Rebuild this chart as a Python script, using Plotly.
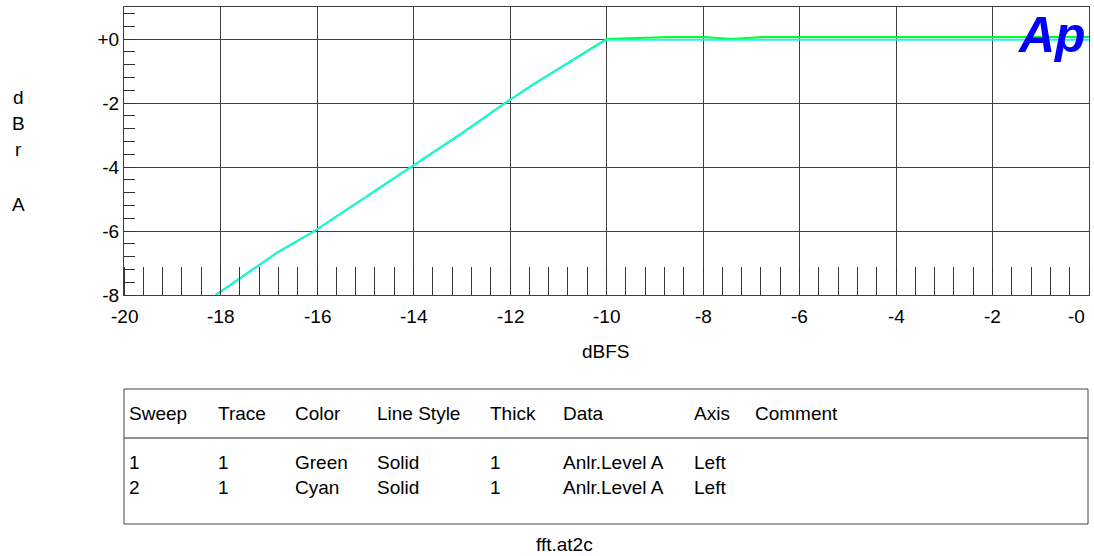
import plotly.graph_objects as go

# Sweep data (x: generator level in dBFS, y: analyzer level in dBr A)
sweep1_x = [-18.1, -16.8, -16.05, -14.05, -13.0, -12.1, -11.5, -10.0, -8.7, -8.0, -7.4, -6.75, -4.0, -2.0, 0.0]
sweep1_y = [-8.0, -6.65, -6.0, -4.0, -2.95, -2.0, -1.4, 0.0, 0.06, 0.06, 0.0, 0.06, 0.06, 0.06, 0.06]
sweep2_x = [-18.1, -16.8, -16.05, -14.05, -13.0, -12.1, -11.5, -10.0, -8.0, -6.0, -4.0, -2.0, 0.0]
sweep2_y = [-8.0, -6.65, -6.0, -4.0, -2.95, -2.0, -1.4, -0.02, -0.02, -0.02, -0.02, -0.02, -0.02]

x_ticks = [-20, -18, -16, -14, -12, -10, -8, -6, -4, -2, 0]
x_tick_labels = ["-20", "-18", "-16", "-14", "-12", "-10", "-8", "-6", "-4", "-2", "-0"]
y_ticks = [0, -2, -4, -6, -8]
y_tick_labels = ["+0", "-2", "-4", "-6", "-8"]

# Legend table contents
table_header = ["Sweep", "Trace", "Color", "Line Style", "Thick", "Data", "Axis", "Comment"]
table_rows = [
    ["1", "1", "Green", "Solid", "1", "Anlr.Level A", "Left", ""],
    ["2", "1", "Cyan", "Solid", "1", "Anlr.Level A", "Left", ""],
]
column_px = [127, 216, 293, 375, 488, 561, 692, 753]

W, H = 1094, 556
L, R, T, B = 124, 1089, 7, 295
FONT = "Liberation Sans, Arial, sans-serif"
GRID = "#404040"


def px_x(p):
    return (p - L) / (R - L)


def px_y(p):
    return (B - p) / (B - T)


fig = go.Figure()
fig.add_trace(go.Scatter(x=sweep1_x, y=sweep1_y, mode="lines",
                         line=dict(color="#00ff1e", width=2), showlegend=False))
fig.add_trace(go.Scatter(x=sweep2_x, y=sweep2_y, mode="lines",
                         line=dict(color="#19f5e6", width=2), showlegend=False))

fig.update_xaxes(range=[-20, 0], tickvals=x_ticks, showticklabels=False,
                 showgrid=True, gridcolor=GRID, gridwidth=1, zeroline=False,
                 showline=True, mirror=True, linecolor=GRID, linewidth=1,
                 ticks="",
                 minor=dict(dtick=0.4, tick0=0, ticks="inside", ticklen=28,
                            tickcolor="#333", tickwidth=1, showgrid=False))
fig.update_yaxes(range=[-8, 1], tickvals=y_ticks, ticktext=y_tick_labels,
                 showgrid=True, gridcolor=GRID, gridwidth=1, zeroline=False,
                 showline=True, mirror=True, linecolor=GRID, linewidth=1,
                 ticks="", tickfont=dict(family=FONT, size=19, color="#000"),
                 minor=dict(dtick=0.4, tick0=0, ticks="inside", ticklen=11,
                            tickcolor="#333", tickwidth=1, showgrid=False))

ann = []


def text(x, y, s, size=19, xanchor="left", **kw):
    ann.append(dict(x=px_x(x), y=px_y(y), xref="paper", yref="paper", text=s,
                    showarrow=False, xanchor=xanchor, yanchor="middle",
                    font=dict(family=FONT, size=size, color=kw.get("color", "#000"),
                              weight=kw.get("weight", "normal"),
                              style=kw.get("style", "normal"))))


# x tick labels placed on the data scale; the last one is kept inside the page
for v, s in zip(x_ticks, x_tick_labels):
    last = v == x_ticks[-1]
    ann.append(dict(x=v, y=px_y(316), xref="x", yref="paper", text=s,
                    showarrow=False, xanchor="right" if last else "center",
                    xshift=-2 if last else 0, yanchor="middle",
                    font=dict(family=FONT, size=19, color="#000")))

# vertical unit label
for ch, yy in zip(["d", "B", "r", "A"], [97.5, 123, 149, 204]):
    text(18, yy, ch, xanchor="center")

text(606, 351, "dBFS", xanchor="center")
text(1051, 35, "Ap", size=50, xanchor="center", color="#0000ff",
     weight="bold", style="italic")

# table
for s, cx in zip(table_header, column_px):
    text(cx, 413, s)
for r, yy in zip(table_rows, [462.5, 487.5]):
    for s, cx in zip(r, column_px):
        if s:
            text(cx, yy, s)
text(564, 544, "fft.at2c", xanchor="center")

shapes = [
    dict(type="rect", xref="paper", yref="paper", x0=px_x(124), x1=px_x(1088),
         y0=px_y(389), y1=px_y(524), line=dict(color="#444", width=1)),
    dict(type="line", xref="paper", yref="paper", x0=px_x(124), x1=px_x(1088),
         y0=px_y(438), y1=px_y(438), line=dict(color="#222", width=1)),
]

fig.update_layout(width=W, height=H, margin=dict(l=L, r=W - R, t=T, b=H - B),
                  paper_bgcolor="white", plot_bgcolor="white",
                  annotations=ann, shapes=shapes, showlegend=False)

fig.write_html("out.html")
